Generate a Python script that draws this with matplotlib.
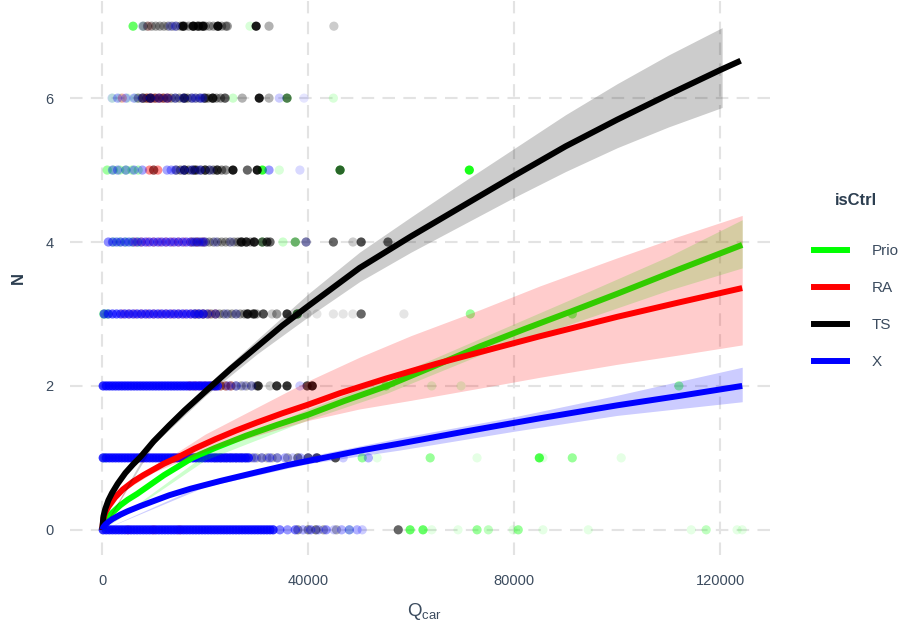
import numpy as np
import matplotlib.pyplot as plt
from matplotlib.colors import to_rgba
from matplotlib.lines import Line2D

plt.rcParams['font.family'] = ['Liberation Sans', 'DejaVu Sans']

# groups (isCtrl) and their colours
groups = ['Prio', 'RA', 'TS', 'X']
colors = ['#00FF00', '#FF0000', '#000000', '#0000FF']

# dense runs of points: (N, alpha, Q_car values in thousands)
prio_runs = [
    (3, .4, [0.3, 1]),
    (4, .3, [2.2, 3.4, 4.6, 5.8, 7]),
    (5, .3, [1, 2.2, 3.4, 4.6, 5.8, 7]),
    (6, .15, [2, 3.5, 5, 6.5, 8]),
]
ra_runs = [
    (2, .35, [17, 18, 19, 20, 21, 22, 23, 24, 25]),
    (3, .25, [4, 5.2, 6.4, 7.6, 8.8, 10, 11.2, 12.4, 13.6, 14.8, 16, 17.2, 18.4, 19.6, 20.8, 22]),
    (4, .3, [6.4, 7.6, 8.8, 10, 11.2, 12.4, 13.6, 14.8, 16, 17.2, 18.4, 19.6]),
    (5, .45, [9.2, 10, 10.8]),
    (6, .45, [8, 8.8, 9.6, 10.4, 11.2, 12, 12.8]),
]
ts_runs = [
    (1, .25, [22, 23, 24, 25, 26, 27, 28, 29, 30, 31, 32, 33, 34]),
    (2, .3, [22, 23, 24, 25, 26, 27, 28, 29, 30]),
    (3, .35, [18, 18.8, 19.6, 20.4, 21.2, 22, 22.8, 23.6, 24.4, 25.2, 26, 26.8, 27.6, 28.4, 29.2, 30]),
    (4, .35, [17.6, 18.4, 19.2, 20, 20.8, 21.6, 22.4, 23.2, 24, 24.8, 25.6, 26.4,
              27.2, 28, 28.8, 29.6]),
    (5, .45, [14.4, 15.2, 16, 16.8, 17.6, 18.4, 19.2, 20, 20.8, 21.6, 22.4, 23.2, 24]),
    (6, .4, [7, 7.8, 8.6, 9.4, 10.2, 11, 11.8, 12.6, 13.4, 14.2, 15, 15.8, 16.6, 17.4, 18.2, 19,
             19.8, 20.6, 21.4, 22.2, 23, 23.8]),
    (7, .35, [8, 8.8, 9.6, 10.4, 11.2, 12, 12.8, 13.6, 14.4, 15.2, 16, 16.8, 17.6, 18.4, 19.2, 20,
              20.8, 21.6, 22.4, 23.2, 24]),
]
x_runs = [
    (0, .8, [0.2, 0.8, 1.4, 2, 2.6, 3.2, 3.8, 4.4, 5, 5.6, 6.2, 6.8, 7.4, 8, 8.6, 9.2, 9.8, 10.4,
             11, 11.6, 12.2, 12.8, 13.4, 14, 14.6, 15.2, 15.8, 16.4, 17, 17.6, 18.2, 18.8, 19.4,
             20, 20.6, 21.2, 21.8, 22.4, 23, 23.6, 24.2, 24.8, 25.4, 26, 26.6, 27.2, 27.8, 28.4,
             29, 29.6, 30.2, 30.8, 31.4, 32, 32.6, 33.2]),
    (1, .8, [0.2, 0.8, 1.4, 2, 2.6, 3.2, 3.8, 4.4, 5, 5.6, 6.2, 6.8, 7.4, 8, 8.6, 9.2, 9.8, 10.4,
             11, 11.6, 12.2, 12.8, 13.4, 14, 14.6, 15.2, 15.8, 16.4, 17, 17.6, 18.2, 18.8, 19.4,
             20, 20.6, 21.2, 21.8, 22.4, 23, 23.6, 24.2, 24.8, 25.4, 26, 26.6, 27.2, 27.8, 28.4]),
    (2, .8, [0.2, 0.8, 1.4, 2, 2.6, 3.2, 3.8, 4.4, 5, 5.6, 6.2, 6.8, 7.4, 8, 8.6, 9.2, 9.8, 10.4,
             11, 11.6, 12.2, 12.8, 13.4, 14, 14.6, 15.2, 15.8, 16.4, 17, 17.6, 18.2, 18.8, 19.4,
             20, 20.6, 21.2, 21.8, 22.4]),
    (3, .6, [0.4, 1.2, 2, 2.8, 3.6, 4.4, 5.2, 6, 6.8, 7.6, 8.4, 9.2, 10, 10.8, 11.6, 12.4, 13.2,
             14, 14.8, 15.6, 16.4, 17.2, 18, 18.8, 19.6]),
    (4, .45, [1.2, 2, 2.8, 3.6, 4.4, 5.2, 6, 6.8, 7.6, 8.4, 9.2, 10, 10.8, 11.6, 12.4, 13.2, 14,
              14.8, 15.6, 16.4, 17.2, 18, 18.8, 19.6]),
    (5, .35, [2, 3, 4.6, 6.2, 7.8, 12.6, 13.4, 14.2, 15.8, 17.4, 19]),
    (6, .3, [3, 4.6, 6.2, 7.8, 9.4, 11, 12.6, 14.2, 15.8, 17.4, 19]),
]

# single scattered points: (Q_car in thousands, N, alpha)
prio_pts = [
    (48, 0, .15), (59.8, 0, .6), (62.3, 0, .6), (64, 0, .1), (69.1, 0, .1),
    (72.8, 0, .4), (75, 0, .25), (79.8, 0, .1), (80.8, 0, .4), (85.6, 0, .1), (94.4, 0, .1),
    (114.4, 0, .1), (117.3, 0, .25), (123.3, 0, .1), (124.3, 0, .1),
    (0.5, 1, .3), (50.5, 1, .4), (53.4, 1, .1), (63.7, 1, .4), (72.8, 1, .1), (84.9, 1, .7),
    (85.6, 1, .1), (91.3, 1, .4), (100.8, 1, .1),
    (55.1, 2, .5), (64, 2, .15), (69.7, 2, .15), (112, 2, .4),
    (37.9, 3, .5), (71.5, 3, .4), (91.3, 3, .5),
    (31.1, 4, .3), (35.1, 4, .2), (37.5, 4, .4),
    (0.9, 5, .1), (31.1, 5, .8), (34.4, 5, .15), (46.2, 5, .6), (71.3, 5, .9),
    (8, 6, .3), (25.4, 6, .2), (35.9, 6, .4), (44.9, 6, .15),
    (6, 7, .6), (7.9, 7, .1), (28.7, 7, .15),
]
ra_pts = [
    (5, 0, .3), (10, 0, .3), (15, 0, .3), (8, 1, .3), (14, 1, .3),
    (3.9, 6, .3), (9, 7, .2),
]
ts_pts = [
    (38, 0, .4), (40, 0, .4), (41.5, 0, .5), (43, 0, .3), (45.5, 0, .3), (57.5, 0, .6),
    (36, 1, .3), (38, 1, .5), (40, 1, .6), (41.7, 1, .7), (45.3, 1, .7),
    (30.3, 2, .8), (32.6, 2, .2), (33.9, 2, .8), (35.9, 2, .8), (39.8, 2, .7), (40.8, 2, .9),
    (28.2, 3, .8), (29.5, 3, .8), (31.3, 3, .7), (33, 3, .2), (33.9, 3, .4), (35.9, 3, .8),
    (37.9, 3, .6), (39.8, 3, .15), (41.7, 3, .1), (44.9, 3, .1), (46.8, 3, .1), (48.7, 3, .1),
    (50.3, 3, .6), (58.6, 3, .1),
    (26.2, 4, .1), (27, 4, .8), (28, 4, .7), (29.5, 4, .8), (31.1, 4, .6), (32, 4, .7),
    (32.6, 4, .6), (37.5, 4, .3), (39.6, 4, .4), (44.9, 4, .6), (48.7, 4, .2), (50.3, 4, .7),
    (55.5, 4, .6),
    (10, 5, .4), (16, 5, .6), (18, 5, .7), (20, 5, .6), (22.3, 5, .6), (25.4, 5, .9),
    (28.2, 5, .6), (30.1, 5, .9), (46.2, 5, .6),
    (9.3, 6, .6), (16, 6, .7), (20, 6, .6), (21.5, 6, .8), (23.9, 6, .4), (27.2, 6, .3),
    (30.5, 6, .9), (32.4, 6, .3), (35.9, 6, .5),
    (15.7, 7, .9), (17.7, 7, .9), (18.7, 7, .8), (19.6, 7, .9), (22.5, 7, .9), (24.3, 7, .4),
    (29.9, 7, .9), (32.4, 7, .3), (45, 7, .2),
]
x_pts = [
    (34.5, 0, .5), (36, 0, .4), (37.5, 0, .5), (39, 0, .3), (40.5, 0, .4), (42, 0, .3),
    (43.5, 0, .4), (45, 0, .2), (46.5, 0, .3), (48, 0, .4), (49.5, 0, .3), (50.5, 0, .2),
    (29.5, 1, .4), (31, 1, .3), (32.5, 1, .4), (34, 1, .3), (35.5, 1, .3), (37, 1, .2),
    (38.5, 1, .3), (40, 1, .2), (41.5, 1, .2), (46.8, 1, .2), (51.7, 1, .3),
    (24.5, 2, .3), (26, 2, .3), (27.5, 2, .2), (29, 2, .2), (38.4, 2, .2),
    (20.5, 3, .3), (22, 3, .3), (24, 3, .2), (26, 3, .2),
    (20, 4, .2), (22, 4, .2), (25, 4, .15), (39.6, 4, .2),
    (21, 5, .2), (32.4, 5, .4), (38.4, 5, .15),
    (1.9, 6, .15), (18, 6, .25), (19.5, 6, .3), (34.4, 6, .2), (39.2, 6, .1),
    (7.8, 7, .1), (13.2, 7, .2), (14.2, 7, .3),
]

# fitted curves (Q_car in thousands, N)
prio_q = [0, 0.25, 0.6, 1.2, 2, 3.5, 5, 6.8, 9, 12, 15, 17.5, 22, 28, 34, 40, 47, 55.3, 64,
          73.4, 82, 90.9, 100, 112, 124.3]
prio_n = [0, 0.07, 0.12, 0.18, 0.24, 0.34, 0.42, 0.5, 0.61, 0.76, 0.89, 1.0, 1.14, 1.31, 1.46,
          1.6, 1.79, 2.0, 2.26, 2.55, 2.79, 3.03, 3.28, 3.62, 3.96]
ra_q = [0, 0.25, 0.6, 1.2, 2.5, 4, 6, 8, 10, 12, 14.5, 18, 22, 26, 30, 35, 40, 46.2, 55, 65,
        73.4, 85, 100, 112, 124.3]
ra_n = [0, 0.16, 0.24, 0.32, 0.45, 0.56, 0.67, 0.76, 0.84, 0.92, 1.0, 1.13, 1.26, 1.38, 1.49,
        1.62, 1.74, 1.9, 2.1, 2.31, 2.47, 2.69, 2.96, 3.16, 3.36]
ts_q = [0, 0.25, 0.6, 1.2, 1.9, 3, 4.5, 6, 7.4, 10, 13, 16, 20, 25, 30, 35, 40, 50, 60, 70, 80,
        90, 100, 110, 120, 124]
ts_n = [0, 0.19, 0.29, 0.41, 0.51, 0.64, 0.79, 0.91, 1.01, 1.23, 1.45, 1.66, 1.92, 2.24, 2.54,
        2.84, 3.11, 3.64, 4.08, 4.5, 4.92, 5.33, 5.7, 6.05, 6.39, 6.52]
x_q = [0, 0.25, 0.6, 1.2, 2, 3.5, 5, 7.4, 10, 13, 17.1, 23, 30, 36, 43, 50, 57.9, 70, 85, 100,
       112, 124.3]
x_n = [0, 0.04, 0.07, 0.11, 0.15, 0.21, 0.26, 0.33, 0.4, 0.48, 0.57, 0.68, 0.8, 0.9, 1.0, 1.1,
       1.2, 1.36, 1.55, 1.73, 1.86, 2.0]

# confidence bands (Q_car in thousands, lower, upper)
prio_bq = [0, 20, 40, 55.3, 73.4, 90.9, 110, 124.3]
prio_lo = [0, 0.97, 1.53, 1.9, 2.43, 2.86, 3.33, 3.64]
prio_hi = [0, 1.05, 1.68, 2.1, 2.66, 3.2, 3.8, 4.31]
ra_bq = [0, 5, 10, 15, 20, 30, 40, 50, 60, 73.4, 85, 100, 112, 124.3]
ra_lo = [0, 0.58, 0.8, 0.95, 1.09, 1.31, 1.52, 1.68, 1.8, 1.97, 2.12, 2.3, 2.43, 2.57]
ra_hi = [0, 0.62, 0.89, 1.1, 1.33, 1.7, 2.07, 2.4, 2.7, 3.06, 3.39, 3.78, 4.08, 4.37]
ts_bq = [0, 10, 20, 30, 40, 50, 60, 70, 80, 90, 100, 110, 120.4]
ts_lo = [0, 1.19, 1.86, 2.44, 2.96, 3.45, 3.86, 4.24, 4.62, 4.98, 5.31, 5.6, 5.87]
ts_hi = [0, 1.27, 1.99, 2.64, 3.28, 3.86, 4.35, 4.83, 5.3, 5.77, 6.2, 6.6, 6.98]
x_bq = [0, 20, 40, 57.9, 80, 100, 124.3]
x_lo = [0, 0.6, 0.92, 1.11, 1.37, 1.59, 1.78]
x_hi = [0, 0.64, 1.02, 1.28, 1.57, 1.87, 2.26]

all_runs = [prio_runs, ra_runs, ts_runs, x_runs]
all_pts = [prio_pts, ra_pts, ts_pts, x_pts]
curves = [(prio_q, prio_n), (ra_q, ra_n), (ts_q, ts_n), (x_q, x_n)]
bands = [(prio_bq, prio_lo, prio_hi), (ra_bq, ra_lo, ra_hi),
         (ts_bq, ts_lo, ts_hi), (x_bq, x_lo, x_hi)]

fig = plt.figure(figsize=(9.11, 6.28), dpi=100)
ax = fig.add_axes([70 / 911, 1 - 555 / 628, 708 / 911, 554 / 628])

# points, group by group
for runs, pts, col in zip(all_runs, all_pts, colors):
    qs, ns, al = [], [], []
    for n, a, qlist in runs:
        qs += qlist
        ns += [n] * len(qlist)
        al += [a] * len(qlist)
    for q, n, a in pts:
        qs.append(q)
        ns.append(n)
        al.append(a)
    rgba = [to_rgba(col, a) for a in al]
    ax.scatter(np.array(qs) * 1000, ns, s=44, c=rgba, linewidths=0, zorder=2)

# smooths: band then line, group by group
for (bq, lo, hi), (cq, cn), col in zip(bands, curves, colors):
    ax.fill_between(np.array(bq) * 1000, lo, hi, color=col, alpha=0.2, linewidth=0, zorder=3)
    ax.plot(np.array(cq) * 1000, cn, color=col, lw=4.3, solid_capstyle='butt', zorder=3)

ax.set_xlim(-6250, 131250)
ax.set_ylim(-0.35, 7.35)
ax.set_xticks([0, 40000, 80000, 120000])
ax.set_xticklabels(['0', '40000', '80000', '120000'])
ax.set_yticks([0, 2, 4, 6])
ax.grid(True, color='#e3e3e3', linestyle=(0, (6, 4)), linewidth=1.5, zorder=0)
ax.set_axisbelow(True)
for s in ax.spines.values():
    s.set_visible(False)
ax.tick_params(length=0, labelsize=10.5, labelcolor='#3b4b5e')
ax.tick_params(axis='x', pad=14)
ax.tick_params(axis='y', pad=12)

ax.set_xlabel(r'Q$_{\mathregular{car}}$', fontsize=13.5, color='#3b4b5e', labelpad=9)
ax.set_ylabel('N', fontsize=12, fontweight='bold', color='#2c3e50', labelpad=14)

handles = [Line2D([0], [0], color=c, lw=4.3) for c in colors]
leg = fig.legend(handles, groups, title='isCtrl', loc='center left',
                 bbox_to_anchor=(800 / 911, 1 - 281 / 628), frameon=False,
                 fontsize=11, title_fontproperties={'weight': 'bold', 'size': 12},
                 labelspacing=1.5, handlelength=2.2, handletextpad=1.6)
leg.get_title().set_color('#2c3e50')
leg._legend_box.sep = 26
for t in leg.get_texts():
    t.set_color('#3b4b5e')

fig.savefig('out.png', dpi=100)
